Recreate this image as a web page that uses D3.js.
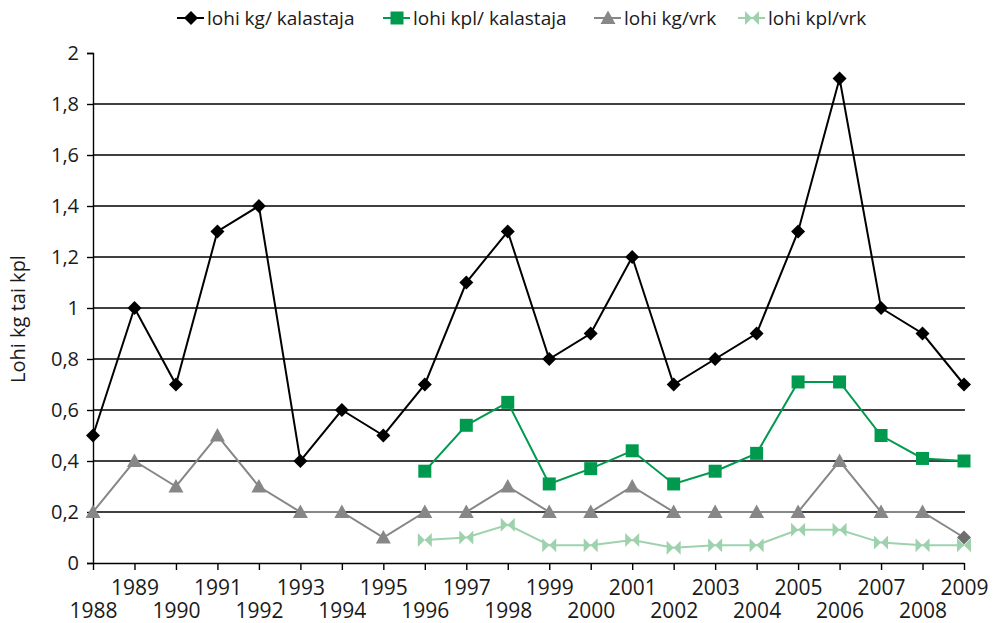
<!DOCTYPE html>
<html>
<head>
<meta charset="utf-8">
<script src="https://cdn.jsdelivr.net/npm/d3@7"></script>
<style>
  body { margin: 0; background: #fff; }
  svg text { font-family: "Open Sans", "Noto Sans", sans-serif; fill: #1a1a1a; }
</style>
</head>
<body>
<svg width="1000" height="623"></svg>
<script>
var years = d3.range(1988, 2010);
var kgKalastaja = [0.5, 1.0, 0.7, 1.3, 1.4, 0.4, 0.6, 0.5, 0.7, 1.1, 1.3, 0.8, 0.9, 1.2, 0.7, 0.8, 0.9, 1.3, 1.9, 1.0, 0.9, 0.7];
var kplKalastaja = [null, null, null, null, null, null, null, null, 0.36, 0.54, 0.63, 0.31, 0.37, 0.44, 0.31, 0.36, 0.43, 0.71, 0.71, 0.50, 0.41, 0.40];
var kgVrk = [0.2, 0.4, 0.3, 0.5, 0.3, 0.2, 0.2, 0.1, 0.2, 0.2, 0.3, 0.2, 0.2, 0.3, 0.2, 0.2, 0.2, 0.2, 0.4, 0.2, 0.2, 0.1];
var kplVrk = [null, null, null, null, null, null, null, null, 0.09, 0.10, 0.15, 0.07, 0.07, 0.09, 0.06, 0.07, 0.07, 0.13, 0.13, 0.08, 0.07, 0.07];
var yTicks = [0, 0.2, 0.4, 0.6, 0.8, 1, 1.2, 1.4, 1.6, 1.8, 2];

var series = [
  {name: "lohi kg/ kalastaja", values: kgKalastaja, color: "#000000", marker: "diamond"},
  {name: "lohi kpl/ kalastaja", values: kplKalastaja, color: "#009a4e", marker: "square"},
  {name: "lohi kg/vrk", values: kgVrk, color: "#878787", marker: "triangle"},
  {name: "lohi kpl/vrk", values: kplVrk, color: "#9dd2ad", marker: "bowtie"}
];

var svg = d3.select("svg");
var x = d3.scaleLinear().domain([1988, 2009]).range([93, 964]);
var y = d3.scaleLinear().domain([0, 2]).range([563, 53]);

var markerPath = {
  diamond: "M0,-7L7,0L0,7L-7,0Z",
  square: "M-6.5,-6.5H6.5V6.5H-6.5Z",
  triangle: "M0,-7.5L7.5,6L-7.5,6Z",
  bowtie: "M-7,-7L0,0L-7,7Z M7,-7L0,0L7,7Z"
};
var fmt = function(d) { return String(d).replace(".", ","); };

// gridlines
svg.append("g").selectAll("line")
  .data(yTicks.filter(d => d > 0 && d < 2))
  .join("line")
  .attr("x1", 93).attr("x2", 965)
  .attr("y1", d => y(d)).attr("y2", d => y(d))
  .attr("stroke", "#000").attr("stroke-width", 1.4);

// y axis
var yAxis = svg.append("g").attr("transform", "translate(93,0)")
  .call(d3.axisLeft(y).tickValues(yTicks).tickFormat(fmt).tickSize(6).tickPadding(8));
yAxis.attr("font-size", 20).attr("font-family", null);
yAxis.select(".domain").attr("stroke", "#000").attr("stroke-width", 1.4);
yAxis.selectAll(".tick line").attr("stroke", "#000").attr("stroke-width", 1.4);
yAxis.selectAll("text").attr("font-size", 20).attr("fill", "#1a1a1a");

// x axis
var xAxis = svg.append("g").attr("transform", "translate(0,563)")
  .call(d3.axisBottom(x).tickValues(years).tickFormat(d3.format("d")).tickSize(7).tickSizeOuter(0));
xAxis.attr("font-size", 21).attr("font-family", null);
xAxis.select(".domain").attr("stroke", "#000").attr("stroke-width", 1.4);
xAxis.selectAll(".tick line").attr("stroke", "#000").attr("stroke-width", 1.4);
xAxis.selectAll("text")
  .attr("font-size", 21).attr("fill", "#1a1a1a")
  .attr("dy", null)
  .attr("y", d => (d % 2 === 1) ? 32 : 55);

// axis title
svg.append("text")
  .attr("transform", "translate(25,319) rotate(-90)")
  .attr("text-anchor", "middle")
  .style("font-size", "20px")
  .text("Lohi kg tai kpl");

// series
var line = d3.line()
  .defined(d => d.v != null)
  .x(d => x(d.year)).y(d => y(d.v));

series.slice().reverse().forEach(function(s) {
  var pts = years.map((yr, i) => ({year: yr, v: s.values[i]}));
  var g = svg.append("g");
  g.append("path").datum(pts)
    .attr("d", line)
    .attr("fill", "none")
    .attr("stroke", s.color)
    .attr("stroke-width", 2);
  g.selectAll("path.m")
    .data(pts.filter(d => d.v != null))
    .join("path").attr("class", "m")
    .attr("transform", d => "translate(" + x(d.year) + "," + y(d.v) + ")")
    .attr("d", (d, i, arr) => (s.marker === "triangle" && i === arr.length - 1) ? markerPath.diamond : markerPath[s.marker])
    .attr("fill", (d, i, arr) => (s.marker === "triangle" && i === arr.length - 1) ? "#6e6e6e" : s.color)
    .attr("stroke", "none");
});

// legend
var legendX = [177, 383, 594, 738];
var legend = svg.append("g").selectAll("g")
  .data(series)
  .join("g")
  .attr("transform", (d, i) => "translate(" + legendX[i] + ",18)");
legend.append("line")
  .attr("x1", 0).attr("x2", 27)
  .attr("stroke", d => d.color).attr("stroke-width", 2);
legend.append("path")
  .attr("transform", "translate(14,0)")
  .attr("d", d => markerPath[d.marker])
  .attr("fill", d => d.color);
legend.append("text")
  .attr("x", 30).attr("y", 7)
  .style("font-size", "19px")
  .text(d => d.name);
</script>
</body>
</html>
